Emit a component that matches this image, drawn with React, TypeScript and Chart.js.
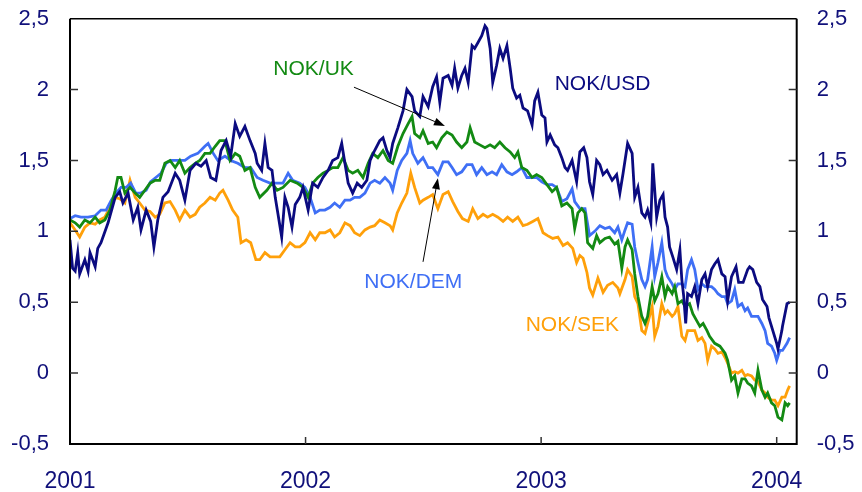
import React, { useEffect, useRef } from 'react';
import { Chart, registerables } from 'chart.js';

Chart.register(...registerables);

// x values: days since 1 Jan 2001
const usdDays = [0,4,8,12,15,23,28,31,39,43,48,59,70,77,82,90,98,105,110,118,125,130,136,144,152,163,170,178,186,195,203,211,218,226,234,242,249,256,263,271,279,287,290,297,302,307,313,318,322,328,333,338,344,349,356,361,369,376,384,392,400,407,415,421,426,431,438,445,452,460,465,472,480,485,491,496,500,508,516,522,530,534,542,547,555,562,568,573,578,586,592,596,601,607,612,617,623,627,632,638,643,646,651,655,661,666,671,677,682,686,692,697,702,709,716,720,725,731,736,739,744,751,756,762,767,771,778,785,790,796,801,805,810,816,821,826,832,840,847,852,857,864,871,875,880,886,891,895,900,903,909,914,919,922,926,929,934,940,945,948,951,954,957,963,968,973,979,984,988,994,999,1004,1010,1015,1019,1025,1032,1036,1043,1050,1053,1058,1064,1069,1073,1080,1083,1089,1095,1097,1103,1104,1111,1115];
const usdValues = [0.94,0.74,0.72,0.85,0.70,0.80,0.72,0.85,0.75,0.88,0.92,1.06,1.24,1.28,1.20,1.27,1.08,1.17,1.01,1.15,1.07,0.89,1.08,1.24,1.28,1.41,1.36,1.22,1.43,1.48,1.46,1.50,1.38,1.36,1.57,1.64,1.53,1.76,1.67,1.74,1.64,1.55,1.48,1.43,1.62,1.45,1.43,1.24,1.13,0.96,1.24,1.17,1.03,1.19,1.24,1.31,1.15,1.34,1.31,1.38,1.43,1.50,1.52,1.62,1.48,1.34,1.27,1.34,1.31,1.36,1.50,1.57,1.64,1.66,1.57,1.52,1.62,1.73,1.85,2.00,1.95,1.85,1.81,1.95,1.88,2.02,2.09,1.91,2.08,2.10,2.03,2.15,2.01,2.10,2.15,2.05,2.31,2.29,2.33,2.38,2.45,2.43,2.29,2.05,2.17,2.29,2.22,2.31,2.15,2.01,1.94,1.96,1.87,1.85,1.75,1.92,1.98,1.82,1.80,1.63,1.68,1.61,1.59,1.52,1.45,1.43,1.50,1.35,1.56,1.59,1.52,1.35,1.26,1.50,1.47,1.40,1.43,1.36,1.40,1.27,1.41,1.62,1.55,1.24,1.31,1.13,1.10,1.15,1.06,1.48,1.10,1.22,1.26,1.10,1.03,0.89,0.82,0.73,0.87,0.66,0.54,0.35,0.56,0.54,0.61,0.49,0.66,0.70,0.61,0.73,0.77,0.80,0.70,0.68,0.51,0.68,0.75,0.64,0.64,0.73,0.75,0.73,0.64,0.61,0.52,0.47,0.39,0.30,0.21,0.17,0.30,0.33,0.49,0.50];

const ukDays = [0,8,15,23,31,39,46,54,62,70,74,79,85,93,101,108,116,124,132,139,147,155,163,170,178,186,194,201,209,217,225,232,240,248,256,263,271,279,287,294,305,313,321,330,341,352,361,369,376,384,392,400,407,415,423,431,438,446,454,462,469,477,485,493,500,508,516,524,530,534,542,547,555,562,568,576,584,592,599,607,615,620,627,635,643,651,658,666,674,682,689,694,700,708,716,723,731,739,747,754,762,770,778,782,787,793,798,802,810,816,821,829,836,844,849,855,860,864,871,875,880,886,891,895,902,906,911,917,922,926,933,937,942,948,953,960,965,971,976,981,987,991,999,1007,1015,1019,1025,1030,1035,1041,1046,1050,1056,1061,1066,1072,1077,1081,1087,1092,1097,1103,1108,1112,1115];
const ukValues = [1.08,1.06,1.03,1.08,1.06,1.10,1.06,1.08,1.15,1.29,1.38,1.38,1.27,1.31,1.27,1.24,1.29,1.34,1.36,1.36,1.48,1.50,1.45,1.50,1.41,1.45,1.48,1.50,1.55,1.55,1.60,1.64,1.64,1.50,1.55,1.53,1.43,1.45,1.31,1.24,1.29,1.34,1.29,1.31,1.36,1.34,1.31,1.24,1.34,1.38,1.41,1.43,1.45,1.45,1.52,1.43,1.41,1.43,1.38,1.48,1.55,1.52,1.57,1.50,1.48,1.60,1.69,1.76,1.81,1.69,1.66,1.71,1.62,1.63,1.59,1.66,1.70,1.68,1.63,1.59,1.63,1.73,1.63,1.61,1.59,1.61,1.59,1.63,1.59,1.56,1.52,1.56,1.45,1.43,1.38,1.40,1.38,1.33,1.28,1.31,1.18,1.20,1.16,1.02,1.13,1.16,1.13,0.92,0.88,0.97,0.92,0.95,0.96,0.91,0.93,0.74,0.89,0.94,0.87,0.70,0.54,0.40,0.35,0.40,0.61,0.51,0.56,0.68,0.54,0.61,0.56,0.61,0.49,0.51,0.47,0.49,0.42,0.37,0.33,0.35,0.30,0.26,0.21,0.19,0.14,0.09,-0.05,-0.02,-0.14,-0.04,-0.04,-0.07,-0.09,-0.14,0.02,-0.12,-0.17,-0.14,-0.21,-0.23,-0.31,-0.33,-0.21,-0.23,-0.21];

const demDays = [0,8,17,28,39,48,56,64,71,79,87,94,102,110,118,125,133,141,149,156,167,178,187,198,209,214,222,229,240,249,260,271,280,290,299,310,321,330,338,345,356,364,372,380,387,395,403,410,418,426,434,441,449,457,465,472,480,488,496,500,507,514,522,527,531,539,547,555,562,570,578,586,592,599,607,615,623,630,638,646,654,661,669,677,685,692,700,708,716,723,731,739,747,754,762,770,778,782,790,798,805,813,821,829,836,844,849,855,860,864,871,875,880,886,891,895,902,906,911,917,922,926,933,937,942,948,953,957,963,968,973,979,984,988,994,999,1004,1010,1015,1019,1025,1030,1035,1041,1046,1050,1056,1061,1066,1072,1077,1081,1087,1092,1095,1100,1104,1111,1115];
const demValues = [1.09,1.11,1.10,1.10,1.11,1.15,1.15,1.22,1.27,1.31,1.31,1.34,1.27,1.27,1.29,1.35,1.38,1.41,1.48,1.50,1.50,1.50,1.53,1.55,1.60,1.62,1.55,1.50,1.53,1.50,1.48,1.45,1.45,1.38,1.36,1.34,1.34,1.34,1.41,1.36,1.34,1.31,1.24,1.13,1.15,1.15,1.17,1.20,1.17,1.22,1.22,1.24,1.24,1.27,1.34,1.36,1.34,1.38,1.34,1.29,1.43,1.50,1.55,1.64,1.55,1.48,1.52,1.45,1.45,1.40,1.49,1.49,1.45,1.40,1.42,1.47,1.47,1.40,1.45,1.40,1.42,1.40,1.47,1.42,1.40,1.42,1.45,1.38,1.38,1.38,1.35,1.33,1.33,1.31,1.21,1.23,1.30,1.21,1.16,1.16,0.97,1.00,1.04,1.02,1.03,0.99,1.03,0.94,1.01,1.06,1.05,0.89,0.78,0.66,0.61,0.66,0.89,0.68,0.78,0.92,0.73,0.68,0.63,0.59,0.63,0.63,0.61,0.73,0.80,0.73,0.59,0.63,0.61,0.61,0.61,0.59,0.56,0.54,0.54,0.49,0.51,0.59,0.47,0.49,0.44,0.46,0.40,0.40,0.40,0.35,0.30,0.21,0.19,0.14,0.09,0.16,0.16,0.21,0.25];

const sekDays = [0,8,15,23,31,39,46,54,62,70,77,85,93,101,108,116,124,132,139,147,155,163,170,178,186,194,201,209,217,225,232,237,245,252,260,265,273,280,288,294,302,310,318,325,333,341,349,356,364,372,380,387,395,403,410,418,426,434,441,449,457,465,472,480,488,496,500,507,514,522,528,534,542,547,555,562,570,578,586,593,601,608,617,624,632,640,647,655,663,671,678,686,694,702,709,717,725,733,740,748,756,764,771,779,785,790,795,801,805,810,818,826,833,841,849,852,860,864,871,875,880,886,891,895,902,906,911,917,922,926,933,937,942,948,953,957,963,968,973,979,984,988,994,999,1004,1010,1015,1019,1025,1030,1035,1041,1046,1050,1056,1061,1066,1072,1077,1081,1087,1092,1097,1103,1108,1112,1115];
const sekValues = [1.06,1.01,0.96,1.03,1.06,1.05,1.08,1.10,1.17,1.24,1.23,1.20,1.36,1.24,1.20,1.15,1.14,1.10,1.12,1.20,1.21,1.15,1.08,1.15,1.10,1.12,1.17,1.20,1.24,1.22,1.27,1.29,1.22,1.15,1.10,0.92,0.94,0.92,0.80,0.80,0.85,0.82,0.82,0.82,0.87,0.92,0.89,0.89,0.92,0.99,0.94,0.99,0.99,1.01,0.96,0.99,1.06,1.04,0.99,0.97,1.01,1.03,1.04,1.08,1.06,1.04,1.01,1.13,1.20,1.27,1.41,1.31,1.20,1.22,1.24,1.26,1.16,1.26,1.28,1.21,1.14,1.09,1.07,1.16,1.09,1.12,1.10,1.12,1.10,1.07,1.10,1.07,1.10,1.04,1.05,1.07,1.09,0.99,0.97,0.95,0.96,0.90,0.92,0.88,0.78,0.83,0.81,0.71,0.60,0.55,0.67,0.57,0.62,0.64,0.60,0.56,0.66,0.73,0.68,0.54,0.49,0.30,0.28,0.35,0.47,0.26,0.33,0.49,0.42,0.44,0.40,0.42,0.47,0.26,0.23,0.30,0.30,0.30,0.23,0.25,0.21,0.09,0.19,0.17,0.14,0.15,0.11,0.07,0.00,0.01,0.00,0.02,-0.02,-0.01,-0.02,-0.05,-0.06,-0.12,-0.14,-0.17,-0.19,-0.19,-0.23,-0.17,-0.17,-0.12,-0.09];

const xTickDays = [0, 365, 730, 1095];
const xTickLabels = ['2001', '2002', '2003', '2004'];
const yTickValues = [-0.5, 0, 0.5, 1, 1.5, 2, 2.5];

const seriesNames = ['NOK/USD', 'NOK/UK', 'NOK/DEM', 'NOK/SEK'];
const seriesColors = ['#0b0b80', '#138a13', '#3f6ff5', '#ffa00a'];

// text labels (anchored in data coordinates: day, value)
const labelTexts = ['NOK/UK', 'NOK/USD', 'NOK/DEM', 'NOK/SEK'];
const labelColors = ['#138a13', '#0b0b80', '#3f6ff5', '#ffa00a'];
const labelDays = [315, 751, 456, 706];
const labelValues = [2.15, 2.045, 0.645, 0.343];

// arrows: start (day, value) -> tip (day, value)
const arrowFromDays = [440, 547];
const arrowFromValues = [2.017, 0.785];
const arrowToDays = [581, 570];
const arrowToValues = [1.744, 1.375];

const FONT = "'Liberation Sans', Arial, Helvetica, sans-serif";
const TICK_COLOR = '#10107a';

const framePlugin = {
  id: 'frameAndNotes',
  afterDraw(chart: any) {
    const { ctx, chartArea, scales } = chart;
    const { left, right, top, bottom } = chartArea;
    const xs = scales.x;
    const ys = scales.y;
    ctx.save();
    // frame
    ctx.strokeStyle = '#000';
    ctx.lineWidth = 2;
    ctx.beginPath();
    ctx.moveTo(left, top);
    ctx.lineTo(left, bottom);
    ctx.lineTo(right, bottom);
    ctx.lineTo(right, top);
    ctx.stroke();
    ctx.lineWidth = 1.5;
    ctx.beginPath();
    ctx.moveTo(left, top);
    ctx.lineTo(right, top);
    ctx.stroke();
    // inward ticks
    ctx.strokeStyle = '#333';
    ctx.lineWidth = 1.5;
    ctx.beginPath();
    yTickValues.forEach((v) => {
      const py = ys.getPixelForValue(v);
      if (Math.abs(py - bottom) < 1 || Math.abs(py - top) < 1) return;
      ctx.moveTo(left, py);
      ctx.lineTo(left + 8, py);
      ctx.moveTo(right, py);
      ctx.lineTo(right - 8, py);
    });
    xTickDays.forEach((d) => {
      const px = xs.getPixelForValue(d);
      if (Math.abs(px - left) < 1) return;
      ctx.moveTo(px, bottom);
      ctx.lineTo(px, bottom - 7);
    });
    ctx.stroke();
    // arrows
    ctx.strokeStyle = '#000';
    ctx.fillStyle = '#000';
    ctx.lineWidth = 1;
    arrowFromDays.forEach((d, i) => {
      const x0 = xs.getPixelForValue(d);
      const y0 = ys.getPixelForValue(arrowFromValues[i]);
      const x1 = xs.getPixelForValue(arrowToDays[i]);
      const y1 = ys.getPixelForValue(arrowToValues[i]);
      const ang = Math.atan2(y1 - y0, x1 - x0);
      const hl = 11;
      const hw = 4;
      const bx = x1 - hl * Math.cos(ang);
      const by = y1 - hl * Math.sin(ang);
      ctx.beginPath();
      ctx.moveTo(x0, y0);
      ctx.lineTo(bx, by);
      ctx.stroke();
      ctx.beginPath();
      ctx.moveTo(x1, y1);
      ctx.lineTo(bx + hw * Math.sin(ang), by - hw * Math.cos(ang));
      ctx.lineTo(bx - hw * Math.sin(ang), by + hw * Math.cos(ang));
      ctx.closePath();
      ctx.fill();
    });
    // series labels
    ctx.font = `21px ${FONT}`;
    ctx.textAlign = 'left';
    ctx.textBaseline = 'middle';
    labelTexts.forEach((t, i) => {
      ctx.fillStyle = labelColors[i];
      ctx.fillText(t, xs.getPixelForValue(labelDays[i]), ys.getPixelForValue(labelValues[i]) + 1);
    });
    ctx.restore();
  },
};

const fmt = (v: number) => String(v).replace('.', ',');

export default function App() {
  const ref = useRef<HTMLCanvasElement | null>(null);
  useEffect(() => {
    document.body.style.margin = '0';
    const toPts = (d: number[], v: number[]) => d.map((x, i) => ({ x, y: v[i] }));
    const series = [
      toPts(usdDays, usdValues),
      toPts(ukDays, ukValues),
      toPts(demDays, demValues),
      toPts(sekDays, sekValues),
    ];
    const yCommon = (pos: 'left' | 'right', width: number, padding: number) => ({
      type: 'linear' as const,
      position: pos,
      min: -0.5,
      max: 2.5,
      grid: { display: false, drawTicks: false },
      border: { display: false },
      afterBuildTicks: (s: any) => {
        s.ticks = yTickValues.map((v) => ({ value: v }));
      },
      afterFit: (s: any) => {
        s.width = width;
        s.paddingTop = 0;
        s.paddingBottom = 0;
      },
      ticks: {
        padding,
        color: TICK_COLOR,
        font: { family: FONT, size: 22 },
        callback: (v: any) => fmt(Number(v)),
      },
    });
    const chart = new Chart(ref.current as HTMLCanvasElement, {
      type: 'line',
      data: {
        datasets: series.map((pts, i) => ({
          label: seriesNames[i],
          data: pts,
          borderColor: seriesColors[i],
          backgroundColor: seriesColors[i],
          borderWidth: 2.8,
          pointRadius: 0,
          tension: 0,
          fill: false,
          yAxisID: 'y',
        })),
      },
      options: {
        responsive: false,
        animation: false,
        devicePixelRatio: 1,
        layout: { padding: { top: 18.7, left: 0, right: 0, bottom: 0 } },
        plugins: { legend: { display: false }, tooltip: { enabled: false } },
        scales: {
          x: {
            type: 'linear',
            min: 0,
            max: 1126,
            grid: { display: false, drawTicks: false },
            border: { display: false },
            afterBuildTicks: (s: any) => {
              s.ticks = xTickDays.map((v) => ({ value: v }));
            },
            afterFit: (s: any) => {
              s.height = 48;
              s.paddingLeft = 0;
              s.paddingRight = 0;
            },
            ticks: {
              padding: 24,
              maxRotation: 0,
              autoSkip: false,
              color: TICK_COLOR,
              font: { family: FONT, size: 23 },
              callback: (v: any) => xTickLabels[xTickDays.indexOf(Number(v))],
            },
          },
          y: yCommon('left', 70, 21),
          y2: yCommon('right', 65.3, 20),
        },
      } as any,
      plugins: [framePlugin],
    });
    return () => chart.destroy();
  }, []);
  return (
    <div style={{ width: 862, height: 492, background: '#fff' }}>
      <canvas ref={ref} width={862} height={492} style={{ display: 'block' }} />
    </div>
  );
}
